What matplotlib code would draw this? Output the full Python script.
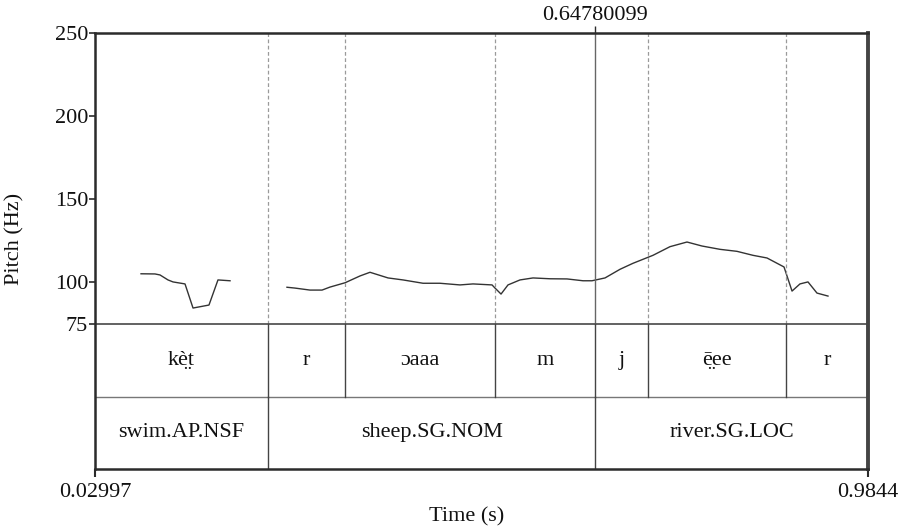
# -*- coding: utf-8 -*-

import matplotlib
matplotlib.use("Agg")
from matplotlib import pyplot as plt

# time range of the selection and cursor
T_START = 0.02997
T_END = 0.9844
CURSOR = 0.64780099

# pitch contour, two voiced stretches
pitch_t1 = [0.0868, 0.1040, 0.1102, 0.1201, 0.1263, 0.1411, 0.1510, 0.1707, 0.1818, 0.1967]
pitch_hz1 = [105.2, 105.1, 104.5, 101.5, 100.3, 99.1, 84.6, 86.4, 101.5, 101.0]

pitch_t2 = [0.2670, 0.2769, 0.2954, 0.3103, 0.3201, 0.3387, 0.3572, 0.3695, 0.3918, 0.4103,
            0.4350, 0.4559, 0.4806, 0.4967, 0.5202, 0.5239, 0.5313, 0.5399, 0.5547, 0.5708,
            0.5918, 0.6128, 0.6325, 0.6436, 0.6597, 0.6782, 0.6942, 0.7189, 0.7399, 0.7609,
            0.7794, 0.8017, 0.8226, 0.8424, 0.8597, 0.8807, 0.8906, 0.9004, 0.9103, 0.9214,
            0.9350]
pitch_hz2 = [97.1, 96.6, 95.4, 95.4, 97.2, 99.8, 103.9, 106.1, 102.7, 101.5,
             99.5, 99.5, 98.5, 99.1, 98.5, 96.6, 93.0, 98.5, 101.5, 102.7,
             102.2, 102.1, 101.0, 101.0, 102.7, 107.9, 111.5, 116.3, 121.5, 124.3,
             121.9, 119.9, 118.7, 116.3, 114.7, 109.3, 94.8, 99.1, 100.3, 93.6,
             91.8]

# text grid tiers
phone_bounds = [0.2436, 0.3387, 0.5239, CURSOR, 0.7128, 0.8832]
phone_labels = ["kè̤t", "r", "ɔaaa", "m", "j", "ē̤ee", "r"]
word_bounds = [0.2436, CURSOR]
word_labels = ["swim.AP.NSF", "sheep.SG.NOM", "river.SG.LOC"]

y_ticks = [75, 100, 150, 200, 250]
F_MIN = 75
F_MAX = 250
TIER_SPLIT = 31.1
Y_BOTTOM = -12.2

plt.rcParams['font.family'] = ['Liberation Serif', 'DejaVu Serif']
FS = 16
DARK = "#2b2b2b"

fig = plt.figure(figsize=(8.98, 5.32), dpi=100)
ax = fig.add_axes([95 / 898, 63 / 532, 773 / 898, 436 / 532])
ax.set_xlim(T_START, T_END)
ax.set_ylim(Y_BOTTOM, F_MAX)

# pitch curve
ax.plot(pitch_t1, pitch_hz1, color="#333333", lw=1.0)
ax.plot(pitch_t2, pitch_hz2, color="#333333", lw=1.0)

# boundaries in pitch area
for b in phone_bounds:
    if b == CURSOR:
        ax.plot([b, b], [F_MIN, F_MAX], color="#666666", lw=1.0)
    else:
        ax.plot([b, b], [F_MIN, F_MAX], color="#9a9a9a", lw=0.9, dashes=(3, 2))

# tier lines
ax.axhline(F_MIN, color="#555555", lw=1.3)
ax.axhline(TIER_SPLIT, color="#777777", lw=1.0)
for b in phone_bounds:
    ax.plot([b, b], [TIER_SPLIT, F_MIN], color="#444444", lw=1.0)
for b in word_bounds:
    ax.plot([b, b], [Y_BOTTOM, TIER_SPLIT], color="#444444", lw=1.0)

# tier labels
edges = [T_START] + phone_bounds + [T_END]
for i, lab in enumerate(phone_labels):
    ax.text((edges[i] + edges[i + 1]) / 2, (TIER_SPLIT + F_MIN) / 2, lab,
            ha="center", va="center", fontsize=FS, color="#111111")
edges = [T_START] + word_bounds + [T_END]
for i, lab in enumerate(word_labels):
    ax.text((edges[i] + edges[i + 1]) / 2, (Y_BOTTOM + TIER_SPLIT) / 2, lab,
            ha="center", va="center", fontsize=FS, color="#111111")

# frame
for side in ["left", "bottom", "top"]:
    ax.spines[side].set_linewidth(1.8)
    ax.spines[side].set_color(DARK)
ax.spines["right"].set_linewidth(2.8)
ax.spines["right"].set_color("#444444")

ax.set_yticks(y_ticks)
ax.set_yticklabels([str(v) for v in y_ticks])
ax.tick_params(axis="y", direction="out", length=4, width=1.2, pad=1,
               labelsize=FS, colors=DARK, labelcolor="#111111")
ax.set_xticks([T_START, T_END])
ax.set_xticklabels(["0.02997", "0.9844"])
ax.tick_params(axis="x", direction="out", length=6, width=1.5, pad=4,
               labelsize=FS, colors=DARK, labelcolor="#111111")

secax = ax.secondary_xaxis("top")
secax.set_xticks([CURSOR])
secax.set_xticklabels(["0.64780099"])
secax.tick_params(direction="out", length=5, width=1.0, pad=1,
                  labelsize=FS, colors=DARK, labelcolor="#111111")
secax.spines["top"].set_visible(False)

fig.text(467 / 898, 1 - 517 / 532, "Time (s)", ha="center", va="center",
         fontsize=FS, color="#111111")
fig.text(15 / 898, 1 - 239 / 532, "Pitch (Hz)", ha="center", va="center",
         rotation=90, fontsize=FS, color="#111111")

fig.savefig("out.png", dpi=100, facecolor="white")
